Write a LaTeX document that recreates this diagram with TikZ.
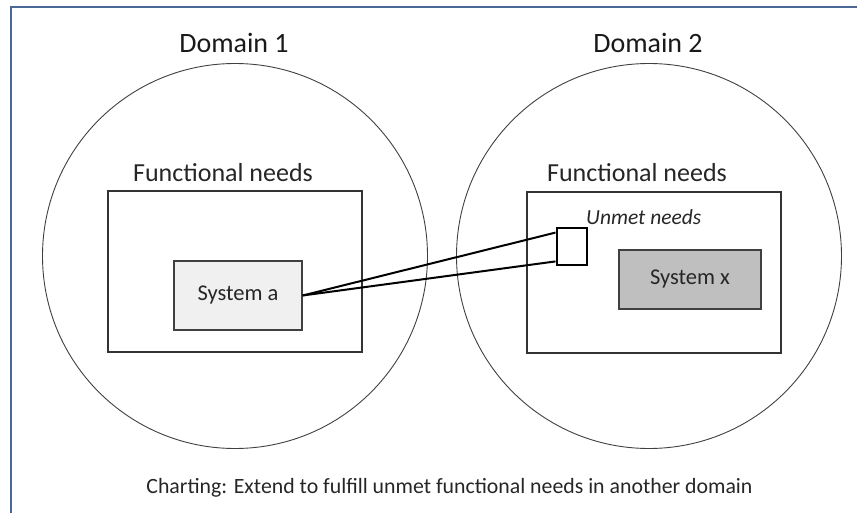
\documentclass[tikz,border=0pt]{standalone}
\usepackage{fontspec}
\setmainfont{Carlito}
\begin{document}
\begin{tikzpicture}[x=1pt,y=-1pt,
  domaincircle/.style={circle,draw=black!75,line width=0.9pt,minimum size=385pt,inner sep=0pt},
  needsbox/.style={draw=black!80,line width=1.2pt,inner sep=0pt},
  sysbox/.style={draw=black!75,line width=1.2pt,inner sep=0pt,font=\fontsize{22.5}{26}\selectfont,text=black!85},
  gapbox/.style={draw=black,line width=2pt,inner sep=0pt,minimum width=30pt,minimum height=37pt},
  domaintitle/.style={font=\fontsize{28}{32}\selectfont,text=black!90,anchor=base},
  heading/.style={font=\fontsize{26}{30}\selectfont,text=black!85,anchor=base},
  link/.style={draw=black,line width=2pt}
]
\useasboundingbox (0,0) rectangle (857,513);
% frame
\draw[color={rgb,255:red,74;green,104;blue,150},line width=1.4pt] (857,7) -- (11,7) -- (11,513);

% domains
\node[domaincircle] (d1) at (235,256) {};
\node[domaincircle] (d2) at (649,256) {};
\node[domaintitle] (t1) at (234,53) {Domain 1};
\node[domaintitle] (t2) at (648,53) {Domain 2};

% functional needs boxes
\node[needsbox,minimum width=254pt,minimum height=161pt] (f1) at (235,271.5) {};
\node[needsbox,minimum width=254pt,minimum height=161pt] (f2) at (654,272.5) {};
\node[heading] (h1) at (223,182) {Functional needs};
\node[heading] (h2) at (637,182) {Functional needs};

% systems
\node[sysbox,fill=black!6,minimum width=128pt,minimum height=69pt] (sa) at (238,295.5) {System a};
\node[sysbox,fill=black!25,minimum width=142pt,minimum height=59pt] (sx) at (690,279.5) {System x};

% unmet needs
\node[gapbox] (gap) at (571.5,247) {};
\node[font=\fontsize{21.5}{25}\selectfont\itshape,text=black!85,anchor=base west,inner sep=0pt] (un) at (586,225) {Unmet needs};

% extension links
\draw[link] (sa.east) -- (gap.138);
\draw[link] (sa.east) -- (gap.222);

% caption
\node[font=\fontsize{21.8}{25}\selectfont,text=black!85,anchor=base] (cap) at (449.5,493) {Charting: Extend to fulfill unmet functional needs in another domain};
\end{tikzpicture}
\end{document}
